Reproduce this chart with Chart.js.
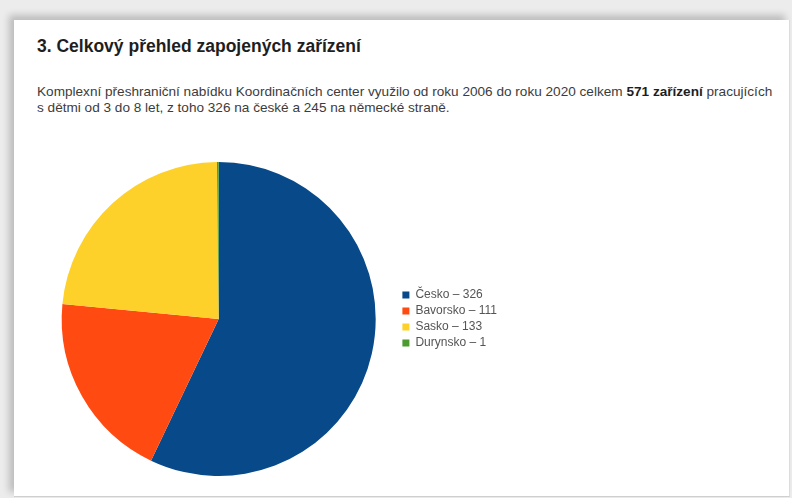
<!DOCTYPE html>
<html lang="cs">
<head>
<meta charset="utf-8">
<script src="https://cdn.jsdelivr.net/npm/chart.js@4/dist/chart.umd.min.js"></script>
<style>
  html, body { margin: 0; padding: 0; }
  body {
    width: 792px; height: 498px; overflow: hidden; position: relative;
    background: #ececec;
    font-family: "Liberation Sans", Arial, sans-serif;
  }
  #page {
    position: absolute; left: 14px; top: 20px; width: 775px; height: 476px;
    background: #fff;
    border-right: 1px solid #dcdcdc; border-bottom: 1px solid #cfcfcf;
    box-shadow: -5px -5px 7px rgba(0,0,0,0.2);
  }
  h1 {
    position: absolute; left: 23px; top: 16px; margin: 0;
    font-size: 17.5px; font-weight: bold; color: #1e1e1e;
  }
  p {
    position: absolute; left: 23px; top: 64px; margin: 0;
    font-size: 13.6px; line-height: 16px; color: #3c3c3c; white-space: nowrap;
  }
  p b { color: #1e1e1e; }
  #wrap { position: absolute; left: 25px; top: 142px; width: 468px; height: 314px; }
</style>
</head>
<body>
<div id="page">
  <h1>3. Celkový přehled zapojených zařízení</h1>
  <p>Komplexní přeshraniční nabídku Koordinačních center využilo od roku 2006 do roku 2020 celkem <b>571 zařízení</b> pracujících<br>s dětmi od 3 do 8 let, z toho 326 na české a 245 na německé straně.</p>
  <div id="wrap"><canvas id="pie"></canvas></div>
</div>
<script>
// regions and number of facilities per region
const regions = ['Česko', 'Bavorsko', 'Sasko', 'Durynsko'];
const facilities = [326, 111, 133, 1];
const sliceColors = ['#08498a', '#ff4b12', '#fdd12a', '#4b9b2f'];

const ctx = document.getElementById('pie').getContext('2d');

new Chart(ctx, {
    type: 'pie',
    data: {
        labels: regions,
        datasets: [{
            data: facilities,
            backgroundColor: sliceColors,
            borderWidth: 0
        }]
    },
    options: {
        responsive: true,
        maintainAspectRatio: false,
        animation: false,
        layout: { padding: 0 },
        plugins: {
            tooltip: { enabled: false },
            legend: {
                position: 'right',
                labels: {
                    boxWidth: 7,
                    boxHeight: 7,
                    padding: 4,
                    color: '#555',
                    font: { family: 'Liberation Sans', size: 12 },
                    // legend shows "name – value"
                    generateLabels: function(chart) {
                        return regions.map((name, i) => ({
                            text: name + ' – ' + facilities[i],
                            fillStyle: sliceColors[i],
                            strokeStyle: sliceColors[i],
                            lineWidth: 0,
                            fontColor: '#555',
                            index: i
                        }));
                    }
                }
            }
        }
    }
});
</script>
</body>
</html>
